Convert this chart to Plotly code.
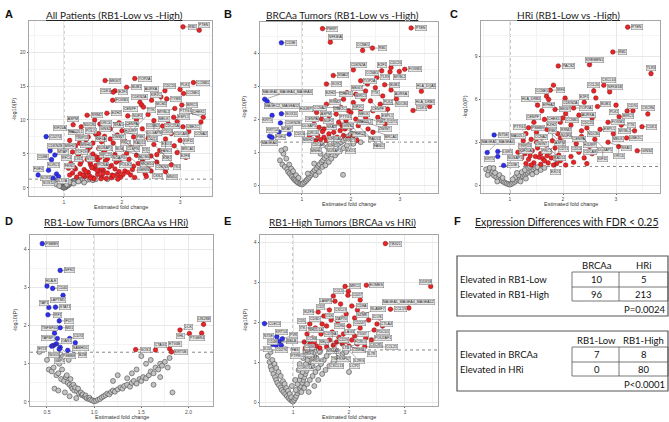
import math
import plotly.graph_objects as go

W, H = 669, 422

# ---------------- DATA ----------------
# Panel A: All Patients (RB1-Low vs -High)
a_gray_x = [0.80,0.84,0.86,0.88,0.90,0.91,0.93,0.94,0.95,0.96,0.97,0.98,0.99,1.00,1.01,1.02,1.03,1.04,1.05,1.06,
            1.07,1.08,1.09,1.10,1.11,1.12,1.13,1.14,1.15,1.16,1.18,1.19,1.20,1.22,1.24,1.26,1.28,1.30,1.33,1.36,
            1.40,1.45,1.50,0.87,0.92,1.05,1.10,1.17,1.25,1.35,1.55,1.75]
a_gray_y = [1.25,1.10,0.95,0.85,0.70,0.60,0.50,0.40,0.35,0.25,0.20,0.12,0.08,0.05,0.06,0.10,0.15,0.22,0.28,0.35,
            0.40,0.48,0.55,0.60,0.68,0.72,0.80,0.85,0.90,0.95,1.05,1.10,1.15,1.20,1.05,1.15,1.22,1.10,1.25,1.18,
            1.20,1.25,1.15,0.55,0.30,0.50,0.85,0.65,0.95,0.80,1.28,1.30]
a_blue_x = [0.695,0.764,0.845,0.788,0.557,0.736,0.874,0.908,0.816]
a_blue_y = [7.55,5.49,4.85,4.17,1.91,2.60,2.06,1.67,1.42]
a_red_x = [3.05,3.33,1.71,2.22,3.23,1.88,1.85,2.08,2.74,2.60,
           3.00,3.06,2.67,2.77,1.84,2.31,2.34,2.37,2.51,2.91,
           3.03,3.16,1.74,1.40,1.53,2.89,2.95,2.80,3.05,3.40,
           3.36,2.70,1.16,2.10,2.25,2.45,2.55,2.15,1.95,1.62,
           1.30,1.45,1.80,2.00,2.35,2.62,2.85,3.15,1.25,1.55,
           1.70,1.92,2.20,2.45,2.75,3.00,1.10,1.38,1.65,1.85,
           2.05,2.30,2.55,2.90,1.20,1.45,1.60,1.78,1.98,2.15,
           2.40,2.65,1.15,1.32,1.50,1.68,1.88,2.08,2.25,2.50,
           2.78,3.10,1.05,1.22,1.40,1.58,1.75,1.95,2.12,2.35,
           2.60,1.12,1.28,1.46,1.62,1.82,2.00,2.20,2.45,2.85,
           1.08,1.20,1.35,1.52,1.68,1.88,2.05,2.30,1.15,1.28,
           1.42,1.58,1.75,1.92,2.15,1.22,1.36,1.50,1.65,1.82,
           2.40,2.75,1.98,1.30,1.48,1.55,1.72,1.40,1.60,1.78,
           1.25,1.35,1.45,1.55,1.65,1.70,1.38,1.50,1.62,1.90,
           2.02,2.18,2.28,1.18,1.33,1.44,1.57,1.67,1.83,1.95,
           2.10,2.50,2.70,1.80,1.60,1.42,1.27,2.38,2.60,2.95,
           1.52,1.73,1.46,1.86,1.64,2.22,1.93,2.42,1.10,2.02]
a_red_y = [23.7,23.2,15.8,16.1,15.5,14.3,14.1,14.8,14.3,13.8,
           14.5,13.9,13.4,13.1,12.9,12.6,12.2,11.9,12.9,11.7,
           12.2,11.2,11.0,10.7,10.0,10.4,9.8,9.4,9.0,10.4,
           9.7,9.1,9.3,10.6,10.1,10.8,9.9,9.3,9.6,9.4,
           9.0,8.6,8.7,8.4,8.7,8.2,8.0,8.3,8.0,7.9,
           7.6,7.8,7.5,7.3,7.2,7.0,7.0,7.1,6.8,6.6,
           6.9,6.5,6.4,6.2,6.2,6.0,5.8,5.9,5.7,6.0,
           5.6,5.5,5.3,5.2,5.0,5.1,4.9,5.1,4.8,4.7,
           4.4,4.5,4.4,4.3,4.2,4.1,4.3,4.0,4.2,3.9,
           3.8,3.6,3.5,3.4,3.5,3.3,3.5,3.2,3.1,3.4,
           2.9,2.8,2.7,2.9,2.6,2.8,2.5,2.6,2.2,2.1,
           2.3,2.0,2.2,2.0,1.9,1.6,1.7,1.5,1.6,1.5,
           2.1,2.4,1.6,3.9,3.0,4.6,4.0,5.5,2.5,3.1,
           4.8,6.4,3.8,3.3,2.9,5.4,2.4,6.6,4.5,3.8,
           4.6,2.7,3.6,3.0,1.9,1.8,2.6,2.1,1.9,2.4,
           2.3,2.5,3.0,7.2,8.0,7.5,6.6,4.4,4.9,5.2,
           1.35,1.4,1.45,1.8,1.35,1.55,1.3,1.7,1.9,2.0]
a_red_lbl = ["RB1","PTEN","MKI67","TOP2A","CCNB1","CDK1","E2F1","BUB1","CDC20","AURKA",
             "PLK1","CCNE1","MCM2","TYMS","FOXM1","CDKN2A","CENPF","TTK","KIF2C","MYBL2",
             "BIRC5","CHEK1","EZH2","RRM2","NDC80","ESPL1","CDC25A","MELK","UBE2C","PTTG1",
             "CCNA2","CCNB2","ASPM","NUF2","CENPA","HJURP","DLGAP5","SKA1","ORC6","GINS2",
             "MAD2L1","TRIP13","ZWINT","PBK","CDT1","CDC6","CDCA8","KIF11","KIF20A","KIF4A",
             "NUSAP1","PRC1","RAD51","EXO1","FANCI","BRCA1","MSH2","MSH6","POLQ","BLM",
             "CLSPN","DTL","E2F2","E2F8","TCF19","STIL","SPC25","NCAPG","MCM4","MCM10",
             "CDKN3","TK1","RFC4","FEN1","LIG1","PCNA","POLE2","GMNN","CKS2","MND1"]
a_blue_lbl = ["CD274","CDKN2B","MTAP","CD8B","FGF4","KLRC1","NCR1","IL17A","SOX11"]

# Panel B: BRCAa Tumors (RB1-Low vs -High)
b_gray_x = [0.55,0.60,0.65,0.70,0.72,0.75,0.78,0.80,0.83,0.85,0.87,0.90,0.92,0.95,0.97,1.00,0.62,0.68,0.74,0.58,
            0.66,0.78,0.82,0.88,0.93,1.02,1.05,1.08,1.10,1.13,1.15,1.18,1.20,1.23,1.26,1.30,1.33,1.36,1.40,1.43,
            1.46,1.50,1.54,1.58,1.62,1.66,1.70,1.75,1.80,1.85,1.90,1.95,2.00,1.28,1.35,1.42,1.48,1.55,1.60,1.68,
            1.72,1.78,1.85,1.92,2.05,1.12,1.25,1.38,1.52,1.65,1.84,2.10,2.20]
b_gray_y = [0.75,0.62,0.55,0.48,0.40,0.35,0.30,0.25,0.20,0.17,0.13,0.10,0.07,0.05,0.03,0.02,0.95,0.80,0.62,1.05,
            1.10,0.50,0.42,0.30,0.22,0.04,0.08,0.12,0.16,0.20,0.25,0.30,0.35,0.40,0.45,0.50,0.58,0.63,0.70,0.75,
            0.82,0.88,0.95,1.00,1.08,1.12,1.18,1.25,1.30,1.35,1.40,1.48,1.55,0.30,0.40,0.55,0.60,0.70,0.80,0.90,
            0.98,1.05,1.12,1.20,1.25,0.35,0.65,0.95,1.15,1.28,0.31,1.40,1.30]
b_blue_x = [0.58,0.24,0.29,0.39,0.58,0.56,0.53,0.74,0.34,0.39]
b_blue_y = [4.31,2.60,2.53,2.11,2.16,1.88,1.61,1.54,1.48,1.44]
b_red_x = [1.42,1.58,2.24,2.44,3.23,1.64,2.05,1.50,2.63,2.80,
           2.82,2.99,3.10,2.53,2.34,2.20,2.69,2.82,3.44,3.61,
           3.27,2.93,2.50,2.30,2.10,1.92,1.85,2.05,2.40,2.60,
           2.75,2.45,2.20,2.00,1.80,1.70,1.55,1.40,1.30,1.25,
           1.35,1.45,1.60,1.75,1.90,2.10,2.30,2.55,1.20,1.32,
           1.45,1.55,1.65,1.78,1.88,2.00,2.15,2.35,1.38,1.50,
           1.62,1.72,1.85,1.95,2.05,2.20,1.28,1.15,1.68,1.50,
           2.25,2.65,1.95,1.82,1.58,2.12,2.45,2.70,1.42,1.75]
b_red_y = [4.74,4.33,4.08,4.15,4.76,3.32,3.49,3.06,3.46,3.43,
           3.56,3.44,3.51,3.26,3.06,3.16,3.04,2.88,2.84,2.38,
           2.26,2.61,2.95,2.85,2.75,2.80,2.60,2.50,2.55,2.45,
           2.30,2.25,2.30,2.20,2.35,2.15,2.10,2.00,2.20,1.95,
           1.75,1.70,1.80,1.90,1.95,2.00,2.05,2.05,1.55,1.50,
           1.45,1.55,1.60,1.65,1.70,1.75,1.80,1.70,1.38,1.35,
           1.40,1.45,1.50,1.40,1.50,1.55,1.35,1.45,2.55,2.45,
           2.60,2.70,2.25,1.80,1.95,1.35,1.60,1.85,1.62,1.40]
b_red_lbl = ["PERP","NFKBIA","CCNE1","RB1","PTEN","SNAI2","CDKN2A","SOX2","E2F1","TLR3",
             "CDC20","MYBL2","FOXM1","CCNB1","MKI67","TOP2A","BUB1","AURKA","HLA_DQA1","HLA_DRB1",
             "CDK1","PLK1","TTK","BIRC5","CHEK1","EZH2","RRM2","KIF2C","CENPF","NDC80",
             "ESPL1","MELK","UBE2C","PTTG1","CCNA2","ASPM","NUF2","CENPA","HJURP","DLGAP5",
             "SKA1","ORC6","GINS2","MAD2L1","TRIP13","ZWINT","PBK","CDT1","CDC6","CDCA8",
             "KIF11","KIF20A","NUSAP1","PRC1","RAD51","EXO1","FANCI","BRCA1","MSH2","MSH6"]
b_blue_lbl = ["CD3E","MAGEA1_MAGEA4_MAGEA3","MAGEC2_MAGEA12","KRT5","SOX11","CDKN2B","MTAP","FGF4","MAGEA4","KRT14"]

# Panel C: HRi (RB1-Low vs -High)
c_gray_x = [0.55,0.60,0.65,0.70,0.74,0.78,0.82,0.85,0.88,0.91,0.94,0.97,1.00,0.62,0.68,0.72,0.80,0.86,0.58,0.76,
            1.03,1.06,1.09,1.12,1.15,1.18,1.21,1.24,1.27,1.30,1.33,1.36,1.40,1.44,1.48,1.52,1.10,1.16,1.22,1.28,
            1.35,1.42,1.50,1.58,1.65,1.20,1.30,1.05,1.13,1.38,0.69]
c_gray_y = [1.10,0.95,0.80,0.65,0.55,0.45,0.35,0.28,0.22,0.15,0.10,0.06,0.03,1.20,0.95,0.85,0.70,0.50,0.70,0.25,
            0.08,0.15,0.22,0.30,0.38,0.46,0.55,0.62,0.70,0.78,0.86,0.95,1.02,1.10,1.18,1.25,0.55,0.70,0.90,1.05,
            1.20,0.75,0.90,1.05,1.20,0.25,0.45,0.40,0.85,1.28,1.19]
c_blue_x = [0.70,0.57,0.77,0.77,0.88]
c_blue_y = [3.51,2.28,2.35,2.00,1.37]
c_red_x = [3.22,2.94,3.66,1.91,2.50,1.76,2.77,2.58,2.88,1.69,
           1.73,2.04,3.21,3.32,3.60,3.06,3.49,1.35,1.52,2.20,
           2.40,2.65,1.85,2.05,2.30,2.55,2.85,3.10,3.35,1.45,
           1.65,1.95,2.15,2.45,2.70,2.95,3.20,1.30,1.50,1.70,
           1.90,2.10,2.35,2.60,2.85,3.05,3.40,1.25,1.40,1.60,
           1.80,2.00,2.25,2.50,2.75,1.20,1.35,1.52,1.68,1.85,
           2.05,2.30,2.55,1.15,1.28,1.42,1.58,1.75,1.92,2.15,
           2.40,1.22,1.35,1.48,1.62,1.78,1.95,2.20,1.30,1.45,
           1.58,1.72,1.88,2.05,1.40,1.65,1.82,1.55,1.70,2.45,
           2.35,2.00,1.60,1.82,2.62,3.00,1.50,1.95,2.25,1.38]
c_red_y = [11.07,9.33,7.81,8.35,8.44,6.65,7.00,6.60,6.53,6.23,
           6.00,6.09,5.19,5.21,4.98,4.79,4.09,4.02,5.60,5.40,
           5.80,5.50,5.30,5.00,4.90,4.70,4.40,4.20,3.80,4.40,
           4.60,4.40,4.20,4.00,3.90,3.60,3.30,3.60,3.70,3.90,
           3.60,3.50,3.40,3.20,3.00,2.70,2.40,3.10,3.20,3.30,
           3.10,3.00,2.90,2.70,2.50,2.70,2.80,2.60,2.80,2.60,
           2.50,2.30,2.20,2.30,2.20,2.40,2.20,2.30,2.10,2.00,
           1.90,1.90,1.80,2.00,1.85,1.90,1.70,1.60,1.50,1.55,
           1.45,1.55,1.50,1.40,1.40,1.70,1.40,1.95,2.05,1.50,
           3.80,4.70,5.20,7.00,6.10,5.60,3.00,3.30,2.60,2.05]
c_red_lbl = ["PTEN","RB1","TLR3","PACS2","KREMEN1","IRF4","CXCL10","CCL20","NFKB1B","CCNE1",
             "EPHA2","CDKN2A","CD70","BIRC5","CXCR6","PLK1","CDK1","PSMB9","HLA_DRB1","TOP2A",
             "E2F1","BUB1","MKI67","CCNB1","AURKA","CDC20","FOXM1","TTK","MYBL2","CENPF",
             "CHEK1","EZH2","RRM2","NDC80","ESPL1","MELK","UBE2C","PTTG1","CCNA2","ASPM",
             "NUF2","CENPA","HJURP","DLGAP5","SKA1","ORC6","GINS2","MAD2L1","TRIP13","ZWINT",
             "PBK","CDT1","CDC6","CDCA8","KIF11","KIF20A","NUSAP1","PRC1","RAD51","EXO1"]
c_blue_lbl = ["NT5E","MAGEA1_MAGEA4","LGR5","KRT5","CD3E"]

# Panel D: RB1-Low Tumors (BRCAa vs HRi)
d_gray_x = [0.42,0.50,0.52,0.55,0.57,0.60,0.62,0.63,0.64,0.65,0.66,0.67,0.68,0.70,0.71,0.72,0.73,0.74,0.75,0.76,
            0.77,0.78,0.79,0.80,0.82,0.83,0.84,0.86,0.87,0.88,0.90,0.91,0.92,0.94,0.95,0.96,0.98,1.00,0.58,0.62,
            0.69,0.74,0.81,1.02,1.04,1.06,1.08,1.10,1.12,1.14,1.16,1.18,1.20,1.22,1.25,1.28,1.30,1.32,1.35,1.38,
            1.40,1.42,1.45,1.48,1.50,1.52,1.55,1.58,1.60,1.63,1.65,1.68,1.70,1.72,1.75,1.78,1.80,1.83,1.35,1.40,
            1.45,1.55,1.60,1.50,1.20,1.25,1.63,1.70]
d_gray_y = [1.31,1.10,0.85,0.80,0.90,0.70,0.75,1.00,1.15,0.60,0.85,1.20,0.55,0.65,0.70,0.50,1.10,0.45,0.60,0.40,
            0.35,0.45,0.30,0.38,0.28,0.35,0.22,0.25,0.18,0.20,0.14,0.17,0.10,0.08,0.11,0.06,0.04,0.02,0.35,0.30,
            0.25,0.15,0.10,0.03,0.06,0.08,0.12,0.15,0.18,0.22,0.20,0.26,0.30,0.27,0.33,0.38,0.35,0.42,0.45,0.40,
            0.50,0.55,0.48,0.60,0.55,0.65,0.62,0.70,0.80,0.75,0.90,0.85,1.00,0.95,1.05,0.90,1.15,0.25,0.62,0.75,
            0.85,1.00,1.10,1.20,0.55,0.70,0.45,0.65]
d_blue_x = [0.45,0.64,0.50,0.56,0.67,0.59,0.52,0.51,0.63,0.64,0.58,0.74,0.80,0.61,0.60,0.57,0.55,0.64,0.72,0.63]
d_blue_y = [4.14,3.44,3.03,2.97,2.79,2.48,2.47,2.28,2.12,1.94,1.80,1.66,1.55,1.66,1.52,1.48,1.46,1.43,1.35,1.38]
d_blue_lbl = ["PSMB9","NFS1","HLA-E","CD40","LAPTM5","STAT1","TAP1","IRF1","IFI27","MX1",
              "TNFSF10","CD74","SAMHD1","TAPBP","IFIT3","ISG15","OAS1","PSMB8","B2M","GBP1"]
d_red_x = [1.44,1.65,1.80,1.82,1.91,2.01,2.16,2.14]
d_red_y = [1.37,1.36,1.39,1.31,1.88,1.79,2.03,1.80]
d_red_lbl = ["SOX2","CTAG1","ETV4B","KRT5B","LCK","VHL","LIN28B","PTGER4"]

# Panel E: RB1-High Tumors (BRCAa vs HRi)
e_gray_x = [0.55,0.58,0.60,0.62,0.65,0.68,0.70,0.72,0.75,0.78,0.80,0.83,0.86,0.89,0.92,0.95,0.98,1.00,0.63,0.67,
            0.70,0.74,0.78,0.82,0.85,0.88,0.91,0.94,0.97,0.60,1.02,1.04,1.06,1.08,1.10,1.12,1.14,1.16,1.18,1.20,
            1.22,1.24,1.26,1.28,1.30,1.32,1.34,1.36,1.05,1.08,1.11,1.14,1.17,1.20,1.23,1.26,1.29,1.32,1.15,1.20,
            1.25,1.30,1.35,1.40,1.45,1.50,1.55,1.60,1.65,1.38,1.45,1.52,1.58,1.65,1.72,1.80,1.88,1.42,1.48,1.35,
            1.12,1.18,1.22,2.00,1.70,1.95,1.28,1.10,1.04,0.98]
e_gray_y = [1.15,1.00,0.88,0.80,0.70,0.62,0.55,0.48,0.42,0.36,0.30,0.25,0.20,0.15,0.10,0.06,0.03,0.01,1.05,0.95,
            0.85,0.75,0.65,0.52,0.45,0.35,0.28,0.20,0.12,1.25,0.05,0.10,0.15,0.22,0.28,0.35,0.40,0.48,0.55,0.62,
            0.70,0.78,0.85,0.92,1.00,1.08,1.15,1.22,0.30,0.45,0.55,0.65,0.75,0.85,0.95,1.05,1.15,1.25,0.25,0.35,
            0.45,0.55,0.65,0.75,0.85,0.95,1.05,1.15,1.25,0.40,0.55,0.70,0.80,0.90,1.00,1.10,1.20,1.10,1.25,0.90,
            0.95,1.10,1.25,0.75,1.28,1.25,0.25,0.80,0.55,0.40]
e_blue_x = [0.49,0.71,0.67,0.75,0.81,0.64,0.70,0.79]
e_blue_y = [1.96,1.63,1.50,1.52,1.58,1.44,1.42,1.42]
e_blue_lbl = ["CLEC5","KRT14","NT5E","RELB","PVR","IL24","CD276","FAS"]
e_red_x = [2.65,3.46,2.31,1.93,1.99,1.98,2.74,3.07,1.75,1.85,
           2.05,2.15,2.25,1.65,1.55,1.45,1.95,2.10,2.35,2.50,
           2.60,2.45,2.20,2.00,1.80,1.60,1.40,1.30,1.25,1.35,
           1.50,1.70,1.90,2.10,2.30,2.40,1.20,1.30,1.42,1.55,
           1.65,1.78,1.88,2.00,2.15,2.28,1.48,1.60,1.72,1.38,
           1.82,2.05,1.68,1.52,1.88,2.20,1.72,2.55,1.22,1.95]
e_red_y = [3.96,2.89,2.92,2.89,2.77,2.67,2.32,2.35,2.52,2.45,
           2.40,2.30,2.20,2.30,2.15,2.25,2.20,2.10,2.05,1.95,
           1.90,1.80,1.85,1.90,1.95,1.90,1.85,1.95,1.70,1.60,
           1.70,1.75,1.70,1.65,1.60,1.55,1.50,1.45,1.40,1.50,
           1.55,1.50,1.45,1.40,1.45,1.38,1.35,1.38,1.42,1.50,
           1.62,1.55,2.05,1.95,2.10,2.55,2.65,2.10,1.35,1.52]
e_red_lbl = ["TBX21","DDX58","EOMES","MRC1","CCL5","CD27","CCL19","MAGEA1_MAGEA4_MAGEA12","LAMP3","CXCL9",
             "CD8A","GZMK","SLAMF7","CD2","CD3D","IKZF3","ZAP70","CD247","ICOS","CTLA4",
             "PDCD1","TIGIT","LAG3","CD96","CD6","SH2D1A","ITK","CD5","CCR7","SELL",
             "CD79A","MS4A1","CD19","FCRL5","POU2AF1","CXCR5","CD38","IRF4","PRDM1","TNFRSF17",
             "CD27B","CXCL13","IL2RG","IL7R","LTB","CCL21","PTPRC","CORO1A","LCP2","CD48"]

# Panel F tables
t1_cols = ["BRCAa", "HRi"]
t1_rows = ["Elevated in RB1-Low", "Elevated in RB1-High"]
t1_vals = [[10, 5], [96, 213]]
t1_p = "P=0.0024"
t2_cols = ["RB1-Low", "RB1-High"]
t2_rows = ["Elevated in BRCAa", "Elevated in HRi"]
t2_vals = [[7, 8], [0, 80]]
t2_p = "P<0.0001"

# ---------------- LAYOUT HELPERS ----------------
def px(x):
    return x / W

def py(y):
    return 1 - y / H

panels = [
    dict(letter="A", lx=3, tx=115, ty=15, title="All Patients (RB1-Low vs -High)", bx=(29, 212), by=(21, 196),
         xr=(0.40, 3.55), yr=(-1.18, 24.56), xtv=[1, 2, 3], xtt=["1", "2", "3"], ydt=5,
         gx=a_gray_x, gy=a_gray_y, bxv=a_blue_x, byv=a_blue_y, rx=a_red_x, ry=a_red_y,
         rl=a_red_lbl, bl=a_blue_lbl),
    dict(letter="B", lx=222, tx=342, ty=15, title="BRCAa Tumors (RB1-Low vs -High)", bx=(260, 438), by=(22, 193),
         xr=(0.143, 3.78), yr=(-0.24, 4.94), xtv=[1, 2, 3], xtt=["1", "2", "3"], ydt=1,
         gx=b_gray_x, gy=b_gray_y, bxv=b_blue_x, byv=b_blue_y, rx=b_red_x, ry=b_red_y,
         rl=b_red_lbl, bl=b_blue_lbl),
    dict(letter="C", lx=448, tx=568, ty=15, title="HRi (RB1-Low vs -High)", bx=(481, 660), by=(21, 193),
         xr=(0.453, 3.83), yr=(-0.56, 11.5), xtv=[1, 2, 3], xtt=["1", "2", "3"], ydt=3,
         gx=c_gray_x, gy=c_gray_y, bxv=c_blue_x, byv=c_blue_y, rx=c_red_x, ry=c_red_y,
         rl=c_red_lbl, bl=c_blue_lbl),
    dict(letter="D", lx=3, tx=116, ty=222, title="RB1-Low Tumors (BRCAa vs HRi)", bx=(30, 213), by=(235, 406),
         xr=(0.32, 2.26), yr=(-0.105, 4.366), xtv=[0.5, 1.0, 1.5, 2.0], xtt=["0.5", "1.0", "1.5", "2.0"], ydt=1,
         gx=d_gray_x, gy=d_gray_y, bxv=d_blue_x, byv=d_blue_y, rx=d_red_x, ry=d_red_y,
         rl=d_red_lbl, bl=d_blue_lbl),
    dict(letter="E", lx=222, tx=342, ty=222, title="RB1-High Tumors (BRCAa vs HRi)", bx=(260, 438), by=(235, 406),
         xr=(0.41, 3.59), yr=(-0.10, 4.175), xtv=[1, 2, 3], xtt=["1", "2", "3"], ydt=1,
         gx=e_gray_x, gy=e_gray_y, bxv=e_blue_x, byv=e_blue_y, rx=e_red_x, ry=e_red_y,
         rl=e_red_lbl, bl=e_blue_lbl),
]

fig = go.Figure()
annotations = []
shapes = []
layout = {}

TICKFONT = dict(family="Arial", size=5, color="#4d4d4d")
LBL_FS = 3.6
CAND = [(r, a) for r in (7, 9, 12, 15, 19, 24, 30) for a in range(0, 360, 30)]


def to_px(p, x, y):
    X0, X1 = p["bx"]
    Y0, Y1 = p["by"]
    sx = X0 + (x - p["xr"][0]) / (p["xr"][1] - p["xr"][0]) * (X1 - X0)
    sy = Y1 - (y - p["yr"][0]) / (p["yr"][1] - p["yr"][0]) * (Y1 - Y0)
    return sx, sy


def overlap(a, b):
    w = min(a[2], b[2]) - max(a[0], b[0])
    h = min(a[3], b[3]) - max(a[1], b[1])
    return w * h if (w > 0 and h > 0) else 0.0


def repel(p, items, pts):
    """choose a pixel offset for each label so boxes stay in the panel and avoid each other"""
    X0, X1 = p["bx"]
    Y0, Y1 = p["by"]
    placed = []
    out = []
    for (x, y, name) in items:
        sx, sy = to_px(p, x, y)
        w = len(name) * 2.15 + 3
        h = 5.6
        best, bscore = None, 1e18
        for (r, ang) in CAND:
            dx = r * math.cos(math.radians(ang)) * 1.4
            dy = -r * math.sin(math.radians(ang)) * 0.8
            cx, cy = sx + dx, sy + dy
            box = (cx - w / 2, cy - h / 2, cx + w / 2, cy + h / 2)
            if box[0] < X0 + 1 or box[2] > X1 - 1 or box[1] < Y0 + 1 or box[3] > Y1 - 1:
                continue
            if box[0] - 2 < sx < box[2] + 2 and box[1] - 2 < sy < box[3] + 2:
                continue
            ov = sum(overlap(box, q) for q in placed)
            cov = sum(1 for (qx, qy) in pts if box[0] - 1.5 < qx < box[2] + 1.5 and box[1] - 1.5 < qy < box[3] + 1.5)
            score = ov * 100 + cov * 4 + r
            if score < bscore:
                bscore, best = score, (dx, dy, box)
        if best is None:
            best = (0, -8, (sx - w / 2, sy - 8 - h / 2, sx + w / 2, sy - 8 + h / 2))
        placed.append(best[2])
        out.append((best[0], best[1]))
    return out


for i, p in enumerate(panels):
    n = i + 1
    xa = "x" if n == 1 else f"x{n}"
    ya = "y" if n == 1 else f"y{n}"
    xkey = "xaxis" if n == 1 else f"xaxis{n}"
    ykey = "yaxis" if n == 1 else f"yaxis{n}"
    layout[xkey] = dict(domain=[px(p["bx"][0]), px(p["bx"][1])], range=list(p["xr"]), anchor=ya,
                        tickvals=p["xtv"], ticktext=p["xtt"], tickfont=TICKFONT,
                        showgrid=True, gridcolor="#e8e8e8", gridwidth=0.6,
                        minor=dict(showgrid=True, gridcolor="#f4f4f4", gridwidth=0.4,
                                   dtick=(p["xtv"][1] - p["xtv"][0]) / 2, tick0=p["xtv"][0]),
                        zeroline=False, showline=True, mirror=True, linecolor="#a6a6a6", linewidth=0.8,
                        ticks="outside", ticklen=1.5, tickcolor="#666", tickwidth=0.5, fixedrange=True)
    layout[ykey] = dict(domain=[py(p["by"][1]), py(p["by"][0])], range=list(p["yr"]), anchor=xa,
                        dtick=p["ydt"], tick0=0, tickfont=TICKFONT,
                        showgrid=True, gridcolor="#e8e8e8", gridwidth=0.6,
                        minor=dict(showgrid=True, gridcolor="#f4f4f4", gridwidth=0.4,
                                   dtick=p["ydt"] / 2, tick0=0),
                        zeroline=False, showline=True, mirror=True, linecolor="#a6a6a6", linewidth=0.8,
                        ticks="outside", ticklen=1.5, tickcolor="#666", tickwidth=0.5, fixedrange=True)

    shapes.append(dict(type="line", xref=xa, yref=f"{ya} domain", x0=1, x1=1, y0=0, y1=1,
                       line=dict(color="#555", width=0.7, dash="dot"), layer="below"))
    shapes.append(dict(type="line", xref=f"{xa} domain", yref=ya, x0=0, x1=1, y0=1.301, y1=1.301,
                       line=dict(color="#555", width=0.7, dash="dot"), layer="below"))

    fig.add_trace(go.Scatter(x=p["gx"], y=p["gy"], mode="markers", xaxis=xa, yaxis=ya, showlegend=False,
                             marker=dict(size=5, color="#c4c4c4", line=dict(color="#4a4a4a", width=0.6))))
    fig.add_trace(go.Scatter(x=p["bxv"], y=p["byv"], mode="markers", xaxis=xa, yaxis=ya, showlegend=False,
                             marker=dict(size=4.6, color="#2f2ff0", line=dict(color="#1a1a8c", width=0.5))))
    fig.add_trace(go.Scatter(x=p["rx"], y=p["ry"], mode="markers", xaxis=xa, yaxis=ya, showlegend=False,
                             marker=dict(size=4.6, color="#e8262a", line=dict(color="#8b1010", width=0.5))))

    items = []
    nb = min(len(p["bl"]), len(p["bxv"]))
    for j in range(nb):
        items.append((p["bxv"][j], p["byv"][j], p["bl"][j]))
    nr = min(len(p["rl"]), len(p["rx"]))
    for j in range(nr):
        items.append((p["rx"][j], p["ry"][j], p["rl"][j]))
    pts = [to_px(p, x, y) for x, y in zip(p["rx"] + p["bxv"], p["ry"] + p["byv"])]
    offs = repel(p, items, pts)
    for (x, y, name), (ox, oy) in zip(items, offs):
        annotations.append(dict(x=x, y=y, xref=xa, yref=ya, text=name, showarrow=True,
                                ax=ox, ay=oy, arrowhead=0, arrowwidth=0.4, arrowcolor="#333",
                                standoff=1.5, font=dict(family="Arial", size=LBL_FS, color="#222"),
                                bgcolor="#e4e4e4", bordercolor="#666", borderwidth=0.4, borderpad=0.4))

    cx = (p["bx"][0] + p["bx"][1]) / 2
    annotations.append(dict(x=px(p["tx"]), y=py(p["ty"]), xref="paper", yref="paper",
                            text=f"<u>{p['title']}</u>", showarrow=False, xanchor="center", yanchor="middle",
                            font=dict(family="Lato", size=10, color="#222")))
    annotations.append(dict(x=px(p["lx"]), y=py(p["ty"] - 1), xref="paper", yref="paper",
                            text=f"<b>{p['letter']}</b>", showarrow=False, xanchor="left", yanchor="middle",
                            font=dict(family="Arial", size=11, color="#111")))
    annotations.append(dict(x=px(cx), y=py(p["by"][1] + 10.5), xref="paper", yref="paper",
                            text="Estimated fold change", showarrow=False, xanchor="center", yanchor="middle",
                            font=dict(family="Arial", size=5.5, color="#333")))
    annotations.append(dict(x=px(p["bx"][0] - 16), y=py((p["by"][0] + p["by"][1]) / 2), xref="paper",
                            yref="paper", text="-log10(P)", showarrow=False, textangle=-90,
                            xanchor="center", yanchor="middle",
                            font=dict(family="Arial", size=5.5, color="#333")))

# ---------------- Panel F ----------------
annotations.append(dict(x=px(452), y=py(221), xref="paper", yref="paper", text="<b>F</b>", showarrow=False,
                        xanchor="left", yanchor="middle", font=dict(family="Arial", size=11, color="#111")))
annotations.append(dict(x=px(567), y=py(222), xref="paper", yref="paper",
                        text="<u>Expression Differences with FDR < 0.25</u>", showarrow=False,
                        xanchor="center", yanchor="middle", font=dict(family="Lato", size=10.5, color="#222")))

TFONT = dict(family="Lato", size=9.5, color="#111")


def draw_table(top, cols, rows, vals, pval):
    left, right = 457, 668
    bottom = top + 60
    shapes.append(dict(type="rect", xref="paper", yref="paper", x0=px(left), x1=px(right),
                       y0=py(bottom), y1=py(top), line=dict(color="#555", width=1.2)))
    c0, cm, c1 = 572, 619, 668
    r0, rm, r1 = top + 16, top + 31, top + 45
    shapes.append(dict(type="rect", xref="paper", yref="paper", x0=px(c0), x1=px(c1), y0=py(r1), y1=py(r0),
                       line=dict(color="#555", width=0.8)))
    shapes.append(dict(type="line", xref="paper", yref="paper", x0=px(cm), x1=px(cm), y0=py(r1), y1=py(r0),
                       line=dict(color="#555", width=0.8)))
    shapes.append(dict(type="line", xref="paper", yref="paper", x0=px(c0), x1=px(c1), y0=py(rm), y1=py(rm),
                       line=dict(color="#555", width=0.8)))
    colx = [(c0 + cm) / 2 + 1, (cm + c1) / 2]
    for k, c in enumerate(cols):
        annotations.append(dict(x=px(colx[k]), y=py(top + 9), xref="paper", yref="paper", text=c,
                                showarrow=False, xanchor="center", yanchor="middle", font=TFONT))
    rowy = [(r0 + rm) / 2, (rm + r1) / 2]
    for k, r in enumerate(rows):
        annotations.append(dict(x=px(left + 1), y=py(rowy[k]), xref="paper", yref="paper", text=r,
                                showarrow=False, xanchor="left", yanchor="middle", font=TFONT))
        for m in range(2):
            annotations.append(dict(x=px(colx[m]), y=py(rowy[k]), xref="paper", yref="paper",
                                    text=str(vals[k][m]), showarrow=False, xanchor="center",
                                    yanchor="middle", font=TFONT))
    annotations.append(dict(x=px(right - 1), y=py(top + 53), xref="paper", yref="paper", text=pval,
                            showarrow=False, xanchor="right", yanchor="middle", font=TFONT))


draw_table(256, t1_cols, t1_rows, t1_vals, t1_p)
draw_table(331, t2_cols, t2_rows, t2_vals, t2_p)

fig.update_layout(**layout)
fig.update_layout(width=W, height=H, margin=dict(l=0, r=0, t=0, b=0), paper_bgcolor="white",
                  plot_bgcolor="white", annotations=annotations, shapes=shapes, showlegend=False)

fig.write_html("out.html")
